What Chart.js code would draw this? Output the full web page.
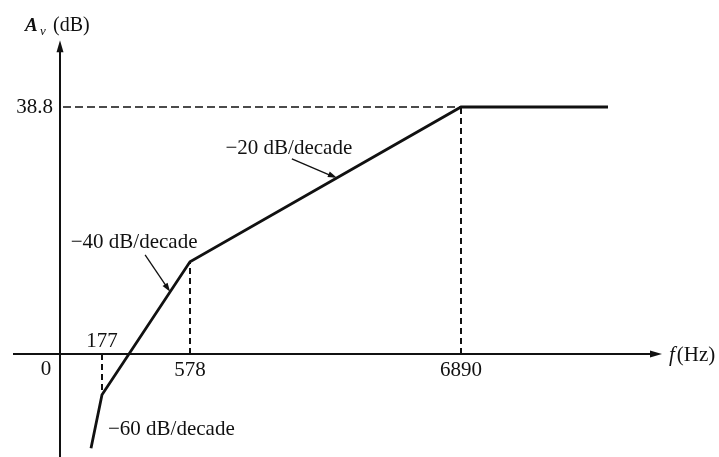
<!DOCTYPE html>
<html>
<head>
<meta charset="utf-8">
<script src="https://cdn.jsdelivr.net/npm/chart.js@4.4.1/dist/chart.umd.min.js"></script>
<style>
    html, body { margin: 0; padding: 0; background: #fff; }
    #wrap { width: 719px; height: 457px; }
</style>
</head>
<body>
<div id="wrap"><canvas id="bode" width="719" height="457"></canvas></div>
<script>
// Asymptotic Bode plot (sketch, frequency axis not to scale)
// position along the sketched frequency axis (origin = 0)
const curvePos = [0.31, 0.42, 1.30, 4.01, 5.48];
const gainDb = [-14.8, -6.4, 14.5, 38.8, 38.8];

// break frequencies and where they sit on the sketched axis
const breakFreqs = ['177', '578', '6890'];
const breakPos = [0.42, 1.30, 4.01];
const breakGain = [-6.4, 14.5, 38.8];

const midbandGain = 38.8;
const slopeLabels = ['\u221260 dB/decade', '\u221240 dB/decade', '\u221220 dB/decade'];

const FONT = "'Liberation Serif', 'DejaVu Serif', serif";
const INK = '#111';

function arrowHead(ctx, x1, y1, x2, y2, len, half) {
    const a = Math.atan2(y2 - y1, x2 - x1);
    ctx.beginPath();
    ctx.moveTo(x2, y2);
    ctx.lineTo(x2 - len * Math.cos(a) + half * Math.sin(a), y2 - len * Math.sin(a) - half * Math.cos(a));
    ctx.lineTo(x2 - len * Math.cos(a) - half * Math.sin(a), y2 - len * Math.sin(a) + half * Math.cos(a));
    ctx.closePath();
    ctx.fill();
}

// draws the axes, guides and labels by hand (book-figure look)
const sketchAxes = {
    id: 'sketchAxes',
    beforeDatasetsDraw(chart) {
        const { ctx, scales: { x, y } } = chart;
        const x0 = x.getPixelForValue(0);
        const y0 = y.getPixelForValue(0);
        ctx.save();
        ctx.strokeStyle = INK;
        ctx.fillStyle = INK;

        // axes
        ctx.lineWidth = 2;
        ctx.beginPath();
        ctx.moveTo(x0, chart.height);
        ctx.lineTo(x0, y.getPixelForValue(49.3) + 8);
        ctx.moveTo(x.getPixelForValue(-0.47), y0);
        ctx.lineTo(x.getPixelForValue(6.02) - 8, y0);
        ctx.stroke();
        arrowHead(ctx, x0, y0, x0, y.getPixelForValue(49.3), 12, 3.5);
        arrowHead(ctx, x0, y0, x.getPixelForValue(6.02), y0, 12, 3.5);

        // dashed guides
        const yTop = y.getPixelForValue(midbandGain);
        ctx.lineWidth = 1.5;
        ctx.setLineDash([8, 4]);
        ctx.beginPath();
        ctx.moveTo(x0 + 3, yTop);
        ctx.lineTo(x.getPixelForValue(breakPos[2]), yTop);
        ctx.stroke();
        ctx.lineWidth = 2;
        ctx.setLineDash([6, 4]);
        breakPos.forEach((p, i) => {
            const px = x.getPixelForValue(p);
            ctx.beginPath();
            ctx.moveTo(px, y0);
            ctx.lineTo(px, y.getPixelForValue(breakGain[i]));
            ctx.stroke();
        });
        ctx.setLineDash([]);
        ctx.restore();
    },
    afterDatasetsDraw(chart) {
        const { ctx, scales: { x, y } } = chart;
        const x0 = x.getPixelForValue(0);
        const y0 = y.getPixelForValue(0);
        ctx.save();
        ctx.fillStyle = INK;
        ctx.strokeStyle = INK;
        ctx.font = `21px ${FONT}`;
        ctx.textBaseline = 'middle';

        // tick labels
        ctx.textAlign = 'right';
        ctx.fillText(String(midbandGain), x0 - 7, y.getPixelForValue(midbandGain));
        ctx.textAlign = 'center';
        ctx.fillText('0', x0 - 14, y0 + 15);
        breakFreqs.forEach((f, i) => {
            const px = x.getPixelForValue(breakPos[i]);
            ctx.fillText(f, px, i === 0 ? y0 - 13 : y0 + 16);
        });

        // axis titles
        ctx.textAlign = 'left';
        ctx.textBaseline = 'alphabetic';
        ctx.font = `italic bold 19px ${FONT}`;
        ctx.fillText('A', x0 - 35, 31);
        ctx.font = `italic 13px ${FONT}`;
        ctx.fillText('v', x0 - 20, 35);
        ctx.font = `20px ${FONT}`;
        ctx.fillText('(dB)', x0 - 7, 31);
        ctx.font = `italic 21px ${FONT}`;
        ctx.fillText('f', x.getPixelForValue(6.02) + 7, y0 + 7);
        const fw = ctx.measureText('f').width;
        ctx.font = `21px ${FONT}`;
        ctx.fillText('(Hz)', x.getPixelForValue(6.02) + 9 + fw, y0 + 7);

        // slope annotations
        ctx.textBaseline = 'middle';
        const seg = (i, t) => ({
            px: x.getPixelForValue(breakPos[i] + (breakPos[i + 1] - breakPos[i]) * t),
            py: y.getPixelForValue(breakGain[i] + (breakGain[i + 1] - breakGain[i]) * t)
        });
        ctx.lineWidth = 1.3;

        const p40 = seg(0, 0.774);
        ctx.beginPath();
        ctx.moveTo(p40.px - 25, p40.py - 37);
        ctx.lineTo(p40.px - 2, p40.py - 3);
        ctx.stroke();
        arrowHead(ctx, p40.px - 25, p40.py - 37, p40.px, p40.py, 9, 3);
        ctx.textAlign = 'center';
        ctx.fillText(slopeLabels[1], p40.px - 36, p40.py - 49);

        const p20 = seg(1, 0.542);
        ctx.beginPath();
        ctx.moveTo(p20.px - 45, p20.py - 19);
        ctx.lineTo(p20.px - 3, p20.py - 1);
        ctx.stroke();
        arrowHead(ctx, p20.px - 45, p20.py - 19, p20.px, p20.py, 9, 3);
        ctx.fillText(slopeLabels[2], p20.px - 48, p20.py - 29);

        ctx.textAlign = 'left';
        ctx.fillText(slopeLabels[0], x.getPixelForValue(breakPos[0]) + 6, y.getPixelForValue(breakGain[0]) + 35);
        ctx.restore();
    }
};

new Chart(document.getElementById('bode'), {
    type: 'line',
    data: {
        datasets: [{
            data: curvePos.map((p, i) => ({ x: p, y: gainDb[i] })),
            borderColor: INK,
            borderWidth: 2.8,
            pointRadius: 0,
            tension: 0,
            fill: false
        }]
    },
    options: {
        responsive: false,
        animation: false,
        layout: { padding: 0 },
        plugins: {
            legend: { display: false },
            tooltip: { enabled: false }
        },
        scales: {
            x: { type: 'linear', min: -0.60, max: 6.59, display: false },
            y: { type: 'linear', min: -16.18, max: 55.61, display: false }
        }
    },
    plugins: [sketchAxes]
});
</script>
</body>
</html>
